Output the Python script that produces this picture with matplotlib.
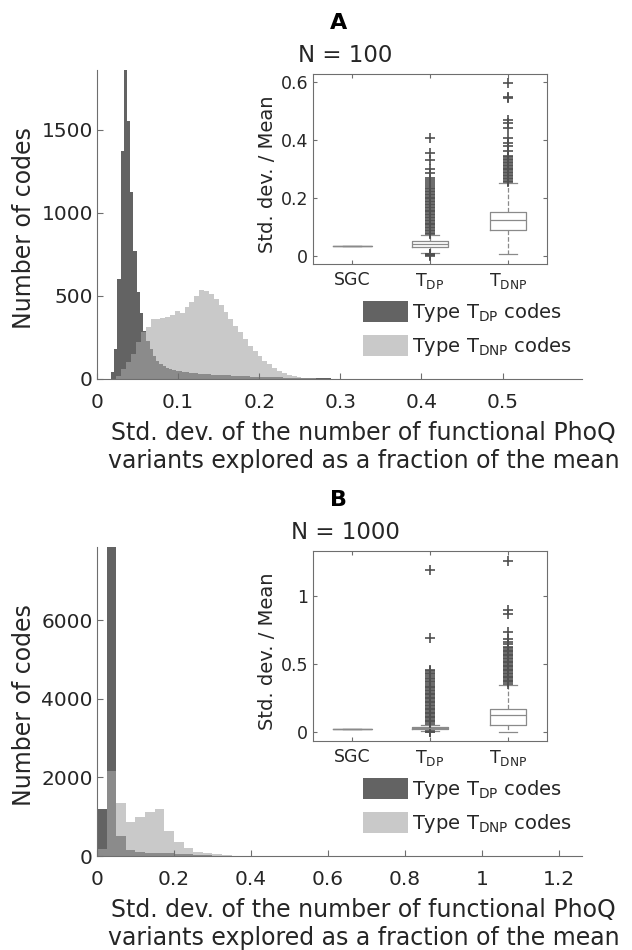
import numpy as np
import matplotlib.pyplot as plt
from matplotlib.patches import Patch

# ---------------- data ----------------
# panel A (N = 100): histogram counts
a_dp_start, a_dp_width = 0.017, 0.004
a_dp_counts = [40, 180, 600, 1375, 1900, 1556, 1125, 773, 522, 400, 290, 230, 180, 140,
               110, 92, 78, 68, 60, 54, 50, 46, 43, 40, 38, 36, 34, 32, 31, 30, 28, 27,
               26, 25, 24, 23, 22, 21, 20, 19, 18, 17, 16, 15, 15, 14, 13, 13, 12, 11,
               11, 10, 10, 9, 9, 8, 8, 7, 7, 6, 6, 6, 5, 5, 5, 4, 4, 4, 3, 3, 3, 3, 2,
               2, 2, 2, 2, 1, 1, 1, 1, 1]
a_dnp_start, a_dnp_width = 0.024, 0.006
a_dnp_counts = [20, 60, 100, 150, 225, 285, 315, 362, 362, 365, 375, 388, 408, 398, 432,
                462, 498, 536, 528, 512, 482, 448, 402, 361, 321, 281, 241, 201, 171, 141,
                110, 90, 65, 48, 34, 24, 16, 11, 8, 5, 4, 3, 2, 2, 1, 1]

# panel B (N = 1000): histogram counts
b_start, b_width = 0.0, 0.025
b_dp_counts = [1190, 8300, 510, 150, 95, 88, 80, 70, 55, 40, 28, 18, 12, 8, 5, 3, 2, 1, 1]
b_dnp_counts = [180, 2160, 1357, 874, 984, 1128, 1188, 630, 360, 195, 110, 68, 40, 22, 12,
                8, 5, 3, 2, 1]

groups = ['SGC', r'T$_{\mathrm{DP}}$', r'T$_{\mathrm{DNP}}$']

# inset box statistics (q1, median, q3, lower whisker, upper whisker)
a_box = [(0.035, 0.035, 0.035, 0.035, 0.035),
         (0.032, 0.041, 0.051, 0.011, 0.072),
         (0.090, 0.124, 0.153, 0.006, 0.251)]
a_fliers = [
    [],
    [0.0, 0.002, 0.004, 0.006, 0.008,
     0.075, 0.08, 0.085, 0.09, 0.095, 0.10, 0.105, 0.11, 0.115, 0.12, 0.125, 0.13,
     0.135, 0.14, 0.145, 0.15, 0.155, 0.16, 0.165, 0.17, 0.175, 0.18, 0.185, 0.19,
     0.195, 0.20, 0.205, 0.21, 0.215, 0.22, 0.225, 0.23, 0.235, 0.24,
     0.247, 0.255, 0.262, 0.27, 0.285, 0.30, 0.33, 0.356, 0.406],
    [0.255, 0.26, 0.265, 0.27, 0.275, 0.28, 0.285, 0.29, 0.295, 0.30, 0.305, 0.31,
     0.315, 0.32, 0.325, 0.33, 0.335, 0.34, 0.345,
     0.362, 0.379, 0.39, 0.407, 0.44, 0.458, 0.469, 0.544, 0.55, 0.596],
]
b_box = [(0.024, 0.024, 0.024, 0.024, 0.024),
         (0.025, 0.031, 0.037, 0.008, 0.055),
         (0.050, 0.122, 0.170, 0.002, 0.348)]
b_fliers = [
    [],
    [0.0, 0.003, 0.006,
     0.06, 0.07, 0.08, 0.09, 0.10, 0.11, 0.12, 0.13, 0.14, 0.15, 0.16, 0.17, 0.18,
     0.19, 0.20, 0.21, 0.22, 0.23, 0.24, 0.25, 0.26, 0.27, 0.28, 0.29, 0.30, 0.31,
     0.32, 0.33, 0.34, 0.352, 0.364, 0.376, 0.388, 0.40, 0.412, 0.424, 0.436, 0.448,
     0.458, 0.688, 1.188],
    [0.355, 0.365, 0.375, 0.385, 0.395, 0.405, 0.415, 0.425, 0.435, 0.445, 0.455,
     0.465, 0.475, 0.485, 0.495, 0.505, 0.515, 0.525, 0.535, 0.545, 0.555, 0.565,
     0.575, 0.585, 0.595, 0.605, 0.615, 0.625, 0.645, 0.665, 0.685, 0.737, 0.864,
     0.90, 1.26],
]

# ---------------- style ----------------
W, H = 632, 950
TXT = '#262626'
AXC = '#6e6e6e'
DARK = '#636363'
LIGHT = '#a6a6a6'
BOXC = '#8a8a8a'
plt.rcParams['font.family'] = 'DejaVu Sans'
plt.rcParams['text.color'] = TXT
plt.rcParams['axes.labelcolor'] = TXT
plt.rcParams['xtick.color'] = AXC
plt.rcParams['ytick.color'] = AXC
plt.rcParams['xtick.labelcolor'] = TXT
plt.rcParams['ytick.labelcolor'] = TXT
plt.rcParams['xtick.direction'] = 'in'
plt.rcParams['ytick.direction'] = 'in'


def rect(l, t, r, b):
    return [l / W, 1 - b / H, (r - l) / W, (b - t) / H]


fig = plt.figure(figsize=(W / 100, H / 100), dpi=100)


def panel(top, letter, ntext, dp_start, dp_w, dp_counts, dnp_start, dnp_w, dnp_counts,
          xlim, xticks, xticklabels, ylim, yticks, box, fliers, ilim, iticks, iticklabels):
    ax = fig.add_axes(rect(97, top, 582, top + 309))
    dp_x = dp_start + dp_w * np.arange(len(dp_counts))
    dnp_x = dnp_start + dnp_w * np.arange(len(dnp_counts))
    ax.bar(dp_x, dp_counts, width=dp_w, align='edge', color=DARK, linewidth=0)
    ax.bar(dnp_x, dnp_counts, width=dnp_w, align='edge', color=LIGHT, alpha=0.6, linewidth=0)
    ax.set_xlim(*xlim)
    ax.set_ylim(*ylim)
    ax.set_xticks(xticks)
    ax.set_xticklabels(xticklabels)
    ax.set_yticks(yticks)
    for s in ['top', 'right']:
        ax.spines[s].set_visible(False)
    for s in ['left', 'bottom']:
        ax.spines[s].set_color(AXC)
        ax.spines[s].set_linewidth(0.8)
    ax.tick_params(length=4, width=0.8, labelsize=14.5)
    ax.tick_params(axis='x', pad=10)
    ax.tick_params(axis='y', pad=3)
    ax.set_ylabel('Number of codes', fontsize=17)
    ax.yaxis.set_label_coords(-0.125, 0.49)
    ax.set_xlabel('Std. dev. of the number of functional PhoQ\n'
                  'variants explored as a fraction of the mean', fontsize=17)
    ax.xaxis.set_label_coords(0.55, -0.137)

    handles = [Patch(facecolor=DARK), Patch(facecolor=LIGHT, alpha=0.6)]
    labels = [r'Type T$_{\mathrm{DP}}$ codes', r'Type T$_{\mathrm{DNP}}$ codes']
    ax.legend(handles, labels, loc='upper left',
              bbox_to_anchor=(363 / W, 1 - (top + 231) / H), bbox_transform=fig.transFigure,
              frameon=False, borderpad=0, borderaxespad=0, handlelength=2.3,
              handleheight=1.3, handletextpad=0.2, labelspacing=0.55, fontsize=14)

    fig.text(339 / W, 1 - (top - 41) / H, letter, weight='bold', ha='center', va='baseline',
             fontsize=16, color='black')
    fig.text(345 / W, 1 - (top - 8) / H, ntext, ha='center', va='baseline', fontsize=16.5)

    # inset box plot
    ins = fig.add_axes(rect(313, top + 4, 547, top + 194))
    stats = []
    for (q1, med, q3, lo, hi), fl in zip(box, fliers):
        stats.append(dict(q1=q1, med=med, q3=q3, whislo=lo, whishi=hi, fliers=fl))
    ins.bxp(stats, positions=[1, 2, 3], widths=[0.5, 0.46, 0.46], capwidths=0.23,
            boxprops=dict(color=BOXC, linewidth=0.9),
            medianprops=dict(color=BOXC, linewidth=0.9),
            whiskerprops=dict(color=BOXC, linewidth=0.9, linestyle='--'),
            capprops=dict(color=BOXC, linewidth=0.9),
            flierprops=dict(marker='+', markeredgecolor='#505050', markersize=7,
                            markeredgewidth=1.2, linestyle='none'))
    ins.set_xlim(0.5, 3.5)
    ins.set_ylim(*ilim)
    ins.set_xticks([1, 2, 3])
    ins.set_xticklabels(groups)
    ins.set_yticks(iticks)
    ins.set_yticklabels(iticklabels)
    for s in ins.spines.values():
        s.set_color(AXC)
        s.set_linewidth(0.8)
    ins.tick_params(length=3, width=0.8, top=True, right=True, labelsize=12.5)
    ins.tick_params(axis='x', pad=5)
    ins.tick_params(axis='y', pad=3.5)
    ins.set_ylabel('Std. dev. / Mean', fontsize=14)
    ins.yaxis.set_label_coords(-0.155, 0.47)
    return ax


panel(70, 'A', 'N = 100', a_dp_start, a_dp_width, a_dp_counts,
      a_dnp_start, a_dnp_width, a_dnp_counts,
      (0, 0.598), [0, 0.1, 0.2, 0.3, 0.4, 0.5], ['0', '0.1', '0.2', '0.3', '0.4', '0.5'],
      (0, 1860), [0, 500, 1000, 1500], a_box, a_fliers,
      (-0.028, 0.628), [0, 0.2, 0.4, 0.6], ['0', '0.2', '0.4', '0.6'])

panel(547, 'B', 'N = 1000', b_start, b_width, b_dp_counts,
      b_start, b_width, b_dnp_counts,
      (0, 1.26), [0, 0.2, 0.4, 0.6, 0.8, 1.0, 1.2], ['0', '0.2', '0.4', '0.6', '0.8', '1', '1.2'],
      (0, 7860), [0, 2000, 4000, 6000], b_box, b_fliers,
      (-0.066, 1.33), [0, 0.5, 1], ['0', '0.5', '1'])

fig.savefig('out.png', dpi=100)
